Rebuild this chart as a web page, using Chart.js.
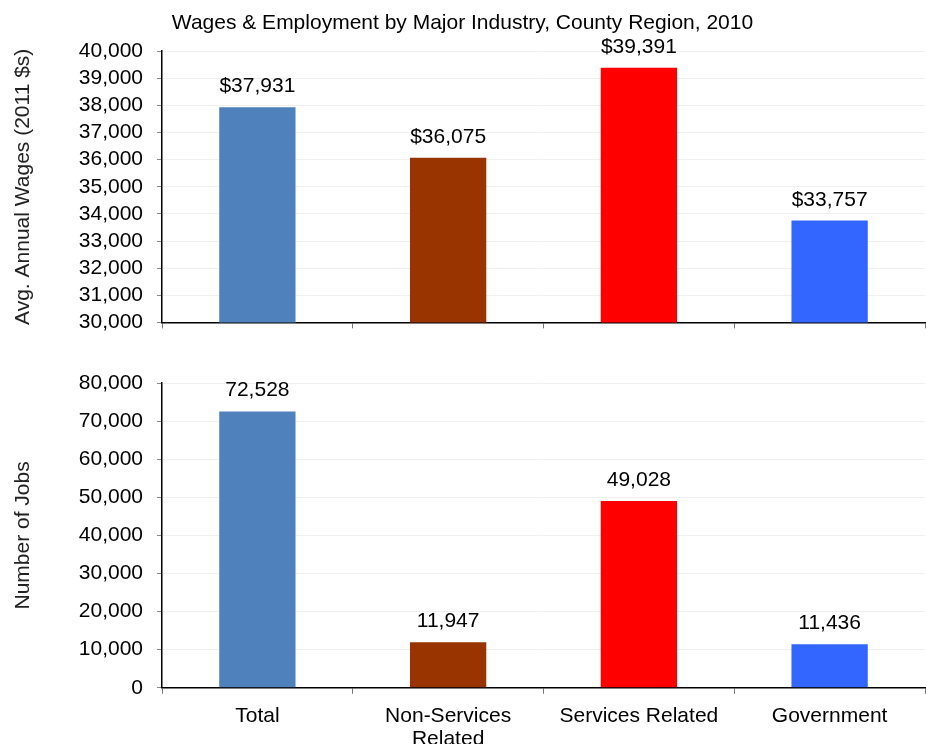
<!DOCTYPE html>
<html>
<head>
<meta charset="utf-8">
<script src="https://cdn.jsdelivr.net/npm/chart.js@4.4.1/dist/chart.umd.min.js"></script>
<style>
  html, body { margin:0; padding:0; background:#fff; }
  #wrap { position:relative; width:926px; height:744px; overflow:hidden; }
  .box { position:absolute; left:0; width:926px; }
</style>
</head>
<body>
<div id="wrap">
  <div class="box" style="top:0;height:349px;"><canvas id="wages" width="926" height="349"></canvas></div>
  <div class="box" style="top:345px;height:417px;"><canvas id="jobs" width="926" height="417"></canvas></div>
</div>
<script>
const CATEGORIES = ["Total", ["Non-Services", "Related"], "Services Related", "Government"];
const WAGES = [37931, 36075, 39391, 33757];
const JOBS = [72528, 11947, 49028, 11436];
const BAR_COLORS = ["#4F81BD", "#993300", "#FF0000", "#3366FF"];
const WAGE_TICKS = { min: 30000, max: 40000, step: 1000 };
const JOB_TICKS = { min: 0, max: 80000, step: 10000 };

const FONT = "'Liberation Sans', Arial, sans-serif";
const FS = 21;
const AXIS_W = 162;

function fmt(n){ return Number(n).toLocaleString("en-US"); }

// draws value text above each bar
const valueLabels = {
  id: "valueLabels",
  afterDatasetsDraw(chart, args, opts){
    const ctx = chart.ctx;
    const meta = chart.getDatasetMeta(0);
    ctx.save();
    ctx.font = `${FS}px ${FONT}`;
    ctx.fillStyle = "#000";
    ctx.textAlign = "center";
    ctx.textBaseline = "alphabetic";
    meta.data.forEach((bar, i) => {
      const v = chart.data.datasets[0].data[i];
      ctx.fillText(opts.prefix + fmt(v), bar.x, bar.y - 15);
    });
    ctx.restore();
  }
};

function makeChart(id, values, ticks, yTitle, prefix, showX, padding, withTitle){
  return new Chart(document.getElementById(id), {
    type: "bar",
    data: {
      labels: CATEGORIES,
      datasets: [{ data: values, backgroundColor: BAR_COLORS, barPercentage: 0.8, categoryPercentage: 0.5 }]
    },
    options: {
      responsive: false,
      animation: false,
      layout: { padding },
      plugins: {
        legend: { display: false },
        tooltip: { enabled: false },
        title: {
          display: withTitle,
          text: "Wages & Employment by Major Industry, County Region, 2010",
          color: "#000",
          font: { family: FONT, size: FS, weight: "normal", lineHeight: 1.2 },
          padding: { top: 11, bottom: 15 }
        },
        valueLabels: { prefix }
      },
      scales: {
        x: {
          grid: { drawOnChartArea: false, drawTicks: true, tickLength: 6, tickColor: "#777", offset: true },
          border: { color: "#000", width: 1.5 },
          ticks: { display: showX, color: "#000", font: { family: FONT, size: FS, lineHeight: 1.1 }, padding: 11, maxRotation: 0 }
        },
        y: {
          min: ticks.min, max: ticks.max,
          afterFit(scale){ scale.width = AXIS_W; },
          grid: { color: "#f0f0f0", tickColor: "#888", tickLength: 5 },
          border: { color: "#000", width: 1.5 },
          ticks: { stepSize: ticks.step, color: "#000", padding: 14, font: { family: FONT, size: FS }, callback: v => fmt(v) },
          title: { display: true, text: yTitle, color: "#222", font: { family: FONT, size: FS }, padding: { top: 11, bottom: 0 } }
        }
      }
    },
    plugins: [valueLabels]
  });
}

makeChart("wages", WAGES, WAGE_TICKS, "Avg. Annual Wages (2011 $s)", "$", false, { left: 0, right: 1, top: 0, bottom: 6 }, true);
makeChart("jobs", JOBS, JOB_TICKS, "Number of Jobs", "", true, { left: 0, right: 1, top: 38, bottom: 0 }, false);
</script>
</body>
</html>
